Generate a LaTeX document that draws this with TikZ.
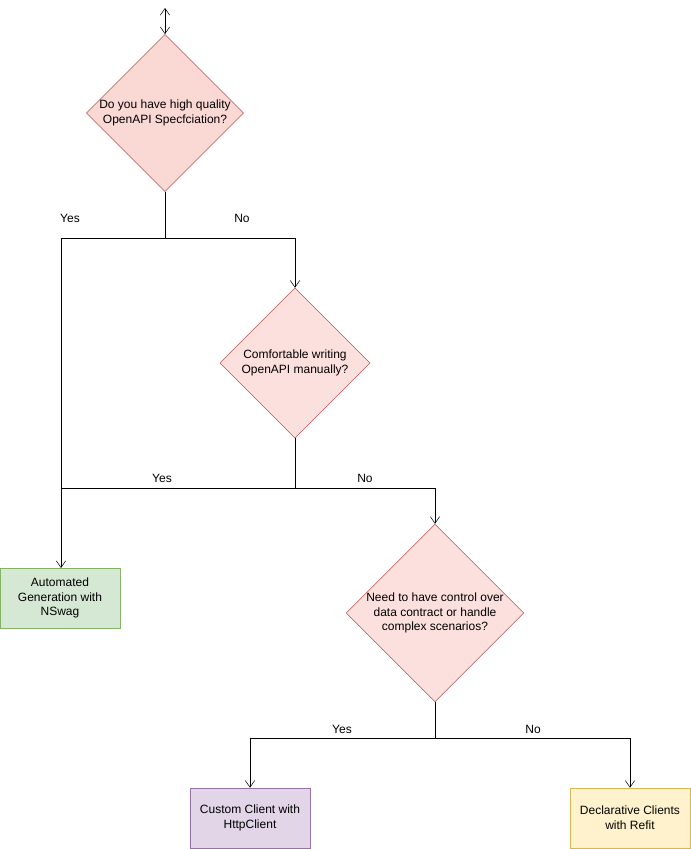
\documentclass[tikz,border=0pt]{standalone}
\usepackage{fontspec}
\setmainfont{Liberation Sans}
\usetikzlibrary{arrows.meta,shapes.geometric}
\definecolor{dfill}{HTML}{FAD9D5}
\definecolor{dfillb}{HTML}{FCE0DE}
\definecolor{dline}{HTML}{B85450}
\begin{document}
\begin{tikzpicture}[x=0.75pt,y=-0.75pt,font=\fontsize{9}{11}\selectfont,
  dia/.style={diamond,draw=dline,fill=dfillb,minimum width=112.5pt,minimum height=112.5pt,inner sep=0pt,align=center,aspect=1},
  box/.style={draw,minimum width=90pt,minimum height=45pt,inner sep=0pt,align=center},
  arr/.style={-{Straight Barb[length=5pt,width=7pt]}},
  lbl/.style={inner sep=0pt}]
\useasboundingbox (0,0) rectangle (691,849);
\node[dia,fill=dfill] (d1) at (165,113) {Do you have high quality\\OpenAPI Specfciation?};
\node[dia] (d2) at (295,363) {Comfortable writing\\OpenAPI manually?};
\node[dia] (d3) at (435,613) {Need to have control over\\data contract or handle\\complex scenarios?};
\node[box,draw=green!40!black!60,fill={rgb,255:red,213;green,232;blue,212},draw={rgb,255:red,130;green,179;blue,102}] (g) at (60,598) {Automated\\Generation with\\NSwag};
\node[box,fill={rgb,255:red,225;green,213;blue,231},draw={rgb,255:red,150;green,115;blue,166}] (c) at (250,818) {Custom Client with\\HttpClient};
\node[box,fill={rgb,255:red,255;green,242;blue,204},draw={rgb,255:red,214;green,182;blue,86}] (r) at (630,818) {Declarative Clients\\with Refit};
\coordinate (t) at (165,8);
\draw[{Straight Barb[length=5pt,width=7pt]}-{Straight Barb[length=5pt,width=7pt]}] (t) -- (d1.north);
\coordinate (j1) at (165,238); \coordinate (j1l) at (61,238); \coordinate (j1r) at (295,238);
\draw (d1.south) -- (j1) -- (j1l);
\draw[arr] (j1) -- (j1r) -- (d2.north);
\draw[arr] (j1l) -- (61,568);
\coordinate (j2) at (295,488); \coordinate (j2r) at (435,488);
\draw (d2.south) -- (j2) -- (61,488);
\draw[arr] (j2) -- (j2r) -- (d3.north);
\coordinate (j3) at (435,738); \coordinate (j3l) at (250,738); \coordinate (j3r) at (630,738);
\draw[arr] (d3.south) -- (j3) -- (j3l) -- (c.north);
\draw[arr] (j3) -- (j3r) -- (r.north);
\node[lbl] at (70,218) {Yes};
\node[lbl] at (242,218) {No};
\node[lbl] at (162,478) {Yes};
\node[lbl] at (365,478) {No};
\node[lbl] at (342,729) {Yes};
\node[lbl] at (533,729) {No};
\end{tikzpicture}
\end{document}
